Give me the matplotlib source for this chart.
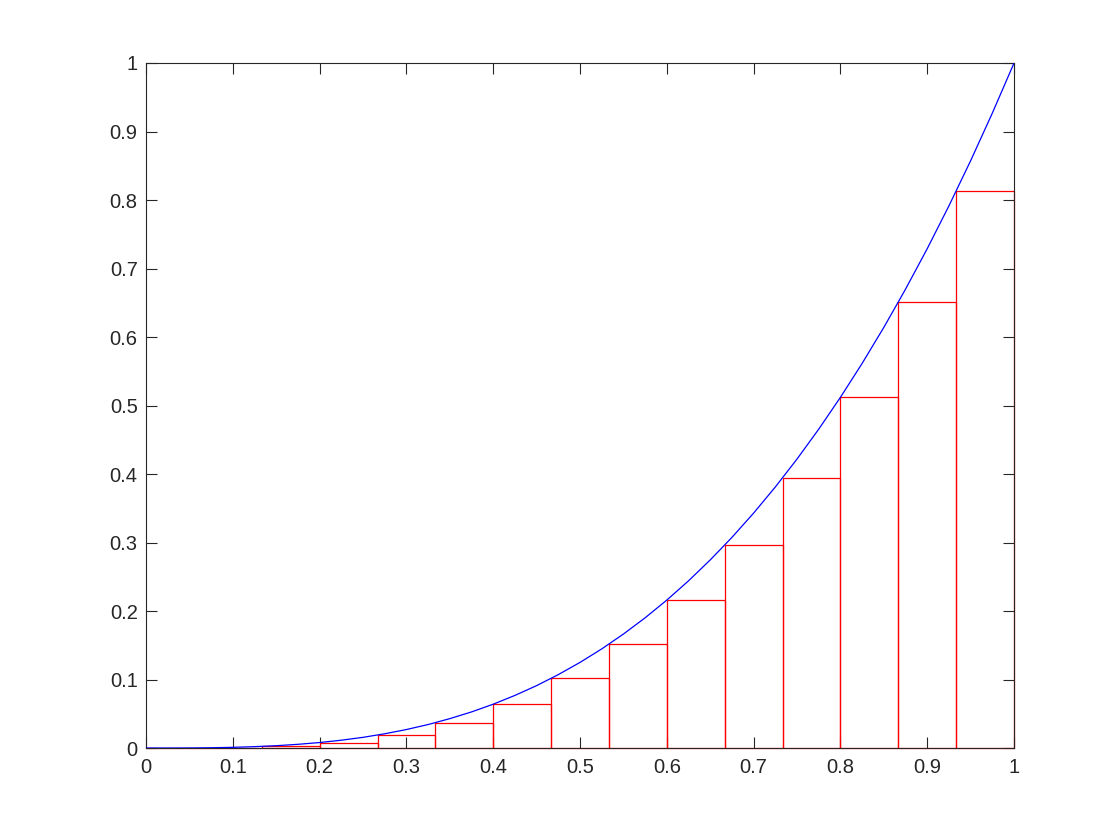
import matplotlib
matplotlib.use("Agg")
import matplotlib.pyplot as plt
from matplotlib.patches import Rectangle

# Rectangle left edges and heights
rect_left = [0.0, 0.0667, 0.1333, 0.2, 0.2667, 0.3333, 0.4, 0.4667,
             0.5333, 0.6, 0.6667, 0.7333, 0.8, 0.8667, 0.9333]
rect_width = 0.0667
rect_height = [0.0, 0.0003, 0.0024, 0.008, 0.019, 0.037, 0.064, 0.1016,
               0.1517, 0.216, 0.2963, 0.3944, 0.512, 0.651, 0.8131]

# Blue curve points
curve_x = [0.0, 0.025, 0.05, 0.075, 0.1, 0.125, 0.15, 0.175, 0.2, 0.225,
           0.25, 0.275, 0.3, 0.325, 0.35, 0.375, 0.4, 0.425, 0.45, 0.475,
           0.5, 0.525, 0.55, 0.575, 0.6, 0.625, 0.65, 0.675, 0.7, 0.725,
           0.75, 0.775, 0.8, 0.825, 0.85, 0.875, 0.9, 0.925, 0.95, 0.975, 1.0]
curve_y = [0.0, 0.0000, 0.0001, 0.0004, 0.001, 0.002, 0.0034, 0.0054,
           0.008, 0.0114, 0.0156, 0.0208, 0.027, 0.0343, 0.0429, 0.0527,
           0.064, 0.0768, 0.0911, 0.1072, 0.125, 0.1447, 0.1664, 0.1901,
           0.216, 0.2441, 0.2746, 0.3075, 0.343, 0.3811, 0.4219, 0.4655,
           0.512, 0.5615, 0.6141, 0.6699, 0.729, 0.7915, 0.8574, 0.9269, 1.0]

x_ticks = [0, 0.1, 0.2, 0.3, 0.4, 0.5, 0.6, 0.7, 0.8, 0.9, 1]
y_ticks = [0, 0.1, 0.2, 0.3, 0.4, 0.5, 0.6, 0.7, 0.8, 0.9, 1]
tick_labels = ["0", "0.1", "0.2", "0.3", "0.4", "0.5", "0.6", "0.7", "0.8", "0.9", "1"]

plt.rcParams['font.family'] = ['Liberation Sans', 'DejaVu Sans']
fig = plt.figure(figsize=(11.2, 8.4), dpi=100)
ax = fig.add_axes([0.1304, 0.1095, 0.7750, 0.8155])

ax.plot(curve_x, curve_y, color='blue', lw=0.9, zorder=3)
for l, h in zip(rect_left, rect_height):
    ax.add_patch(Rectangle((l, 0), rect_width, h, fill=False,
                           edgecolor='red', lw=0.9, zorder=2, clip_on=False))

ax.set_xlim(0, 1)
ax.set_ylim(0, 1)
ax.set_xticks(x_ticks)
ax.set_xticklabels(tick_labels)
ax.set_yticks(y_ticks)
ax.set_yticklabels(tick_labels)
ax.tick_params(direction='in', top=True, right=True, length=8, width=0.8,
               labelsize=14.5, colors='#262626')
ax.tick_params(axis='x', pad=7)
ax.tick_params(axis='y', pad=6)
for s in ax.spines.values():
    s.set_linewidth(0.8)
    s.set_color('#262626')

fig.savefig("out.png", dpi=100)
